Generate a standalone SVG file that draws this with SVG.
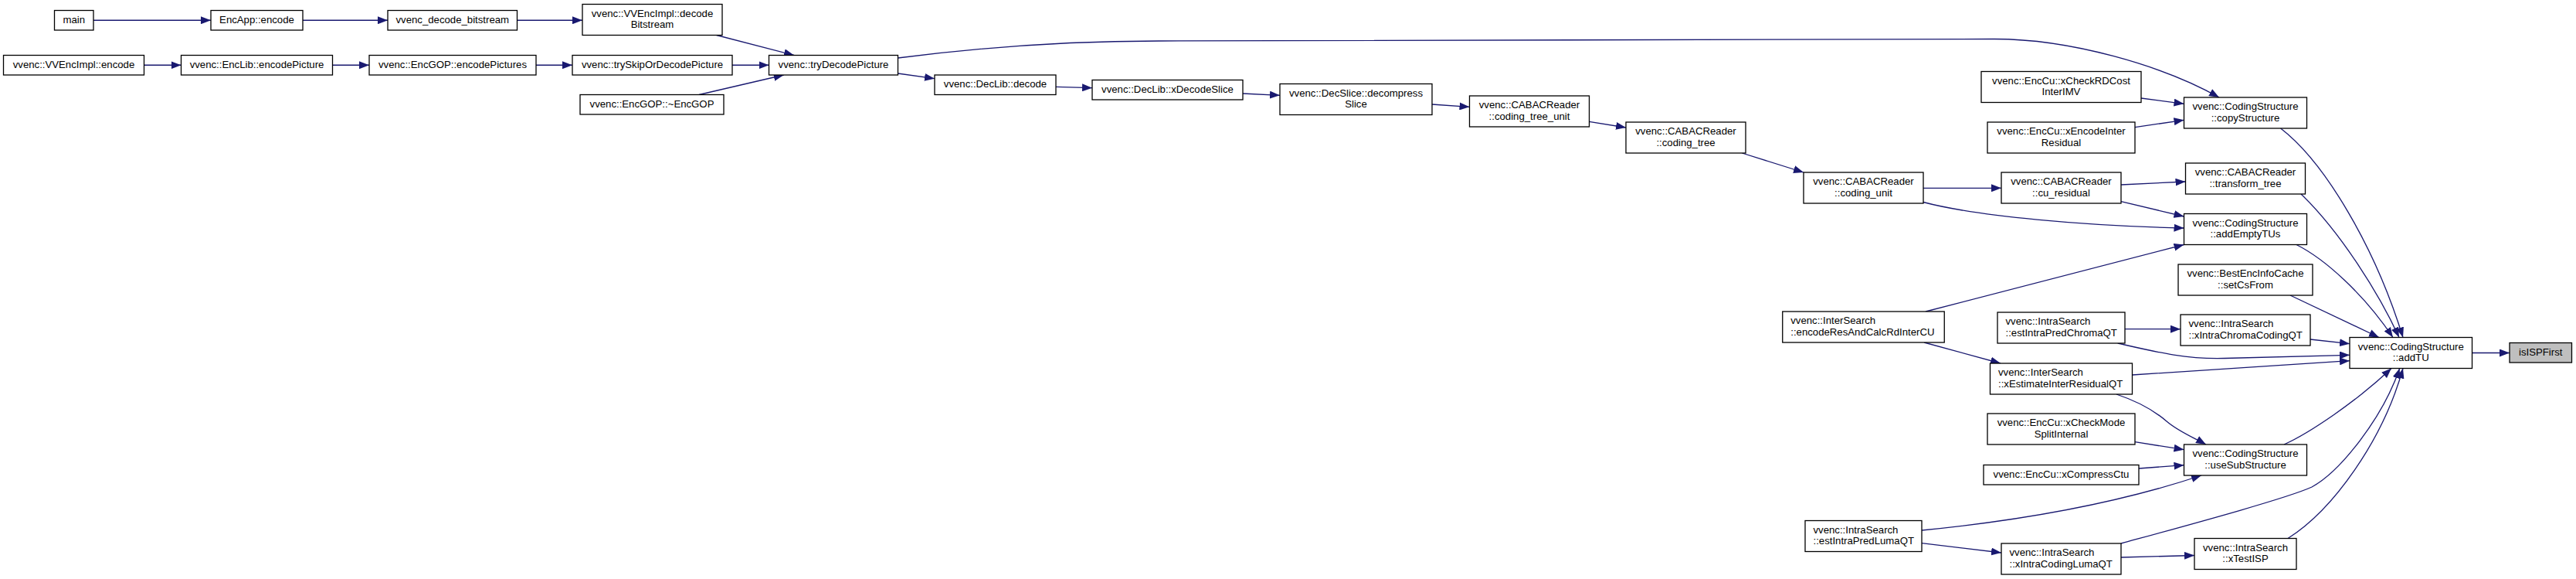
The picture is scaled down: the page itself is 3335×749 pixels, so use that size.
<svg xmlns="http://www.w3.org/2000/svg" width="3335" height="749" viewBox="0 0 3335 749">
<defs>
<style>
.n rect{fill:#fff;stroke:#000;stroke-width:1.3}
.n.g rect{fill:#bfbfbf}
text{font-family:"Liberation Sans",Arial,Helvetica,sans-serif;font-size:13.2px;fill:#000}
.c{text-anchor:middle}
#edges path{fill:none;stroke:#191970;stroke-width:1.3;marker-end:url(#a)}
</style>
<marker id="a" markerUnits="userSpaceOnUse" markerWidth="13" markerHeight="10" refX="13" refY="5" orient="auto" viewBox="0 0 13 10"><path d="M0,0L13,5L0,10z" fill="#191970"/></marker>
</defs>
<rect width="3335" height="749" fill="#fff"/>
<g id="edges">
<path d="M121,26.25 L273,26.25"/>
<path d="M392,26.25 L502,26.25"/>
<path d="M669.5,26.25 L754,26.25"/>
<path d="M186.5,84.25 L234.5,84.25"/>
<path d="M430.5,84.25 L478,84.25"/>
<path d="M694,84.25 L741,84.25"/>
<path d="M927.7,45.5 L1028,71.5"/>
<path d="M948,84.25 L995.5,84.25"/>
<path d="M905,122.5 L1014.7,97"/>
<path d="M1162.5,95 L1210,101.7"/>
<path d="M1162.5,75 C1280,60 1400,53 1500,53 L2580,50.5 C2680,50 2800,85 2873,126"/>
<path d="M1367,112.3 L1414,113.7"/>
<path d="M1609,121 L1657,123.3"/>
<path d="M1854,135 L1902.5,138.3"/>
<path d="M2057.5,157.3 L2105,165"/>
<path d="M2255.3,198 L2335,223"/>
<path d="M2490,243.3 L2591,243.3"/>
<path d="M2490,261.5 C2560,280 2700,292 2827.5,295"/>
<path d="M2493,403 L2827.5,316.5"/>
<path d="M2491,443 L2590,470"/>
<path d="M2772,127 L2827.5,134.3"/>
<path d="M2764,164.7 L2827.5,155.3"/>
<path d="M2746,239 L2829.5,235"/>
<path d="M2746,260.7 L2827.5,280"/>
<path d="M2952.6,166 C3010,210 3075,320 3111,436.5"/>
<path d="M2979,251 C3030,300 3080,380 3106,436.5"/>
<path d="M2973,316.5 C3010,335 3060,380 3098,436.5"/>
<path d="M2965,382 L3080,436.5"/>
<path d="M2751,425.7 L2823,425.7"/>
<path d="M2991,439 L3042,444.7"/>
<path d="M2741.7,444 C2790,455 2830,465 2880,463.5 C2950,461.5 3000,460 3042,459.3"/>
<path d="M2760.5,485 C2850,480 2950,472 3042,466.7"/>
<path d="M3200.5,456.5 L3249,456.5"/>
<path d="M2740,510 C2770,520 2790,532 2805,545 C2820,558 2840,566 2856,575"/>
<path d="M2764,571.7 L2827.5,581.7"/>
<path d="M2769,606 L2827.5,601.7"/>
<path d="M2488,686 C2600,675 2730,655 2850,615"/>
<path d="M2488,702.7 L2591,715"/>
<path d="M2957,575 C2990,560 3050,520 3096,476.5"/>
<path d="M2746,703 C2830,680 2960,645 2993,630 C3030,610 3085,540 3106.7,476.5"/>
<path d="M2962,696.5 C3020,660 3085,570 3111,476.5"/>
<path d="M2746,721 L2841,718.5"/>
</g>
<g id="n1" class="n"><rect x="70.5" y="13.5" width="50.5" height="25.5"/><text class="c" x="95.75" y="29.75">main</text></g>
<g id="n2" class="n"><rect x="273" y="13.5" width="119" height="25.5"/><text class="c" x="332.5" y="29.75">EncApp::encode</text></g>
<g id="n3" class="n"><rect x="502" y="13.5" width="167.5" height="25.5"/><text class="c" x="585.75" y="29.75">vvenc_decode_bitstream</text></g>
<g id="n4" class="n"><rect x="754" y="5.5" width="181" height="40"/><text class="c" x="844.5" y="21.8">vvenc::VVEncImpl::decode</text><text class="c" x="844.5" y="36.1">Bitstream</text></g>
<g id="n5" class="n"><rect x="4.5" y="71.5" width="182" height="25.5"/><text class="c" x="95.5" y="87.75">vvenc::VVEncImpl::encode</text></g>
<g id="n6" class="n"><rect x="234.5" y="71.5" width="196" height="25.5"/><text class="c" x="332.5" y="87.75">vvenc::EncLib::encodePicture</text></g>
<g id="n7" class="n"><rect x="478" y="71.5" width="216" height="25.5"/><text class="c" x="586" y="87.75">vvenc::EncGOP::encodePictures</text></g>
<g id="n8" class="n"><rect x="741" y="71.5" width="207" height="25.5"/><text class="c" x="844.5" y="87.75">vvenc::trySkipOrDecodePicture</text></g>
<g id="n9" class="n"><rect x="751" y="122.5" width="186" height="25.5"/><text class="c" x="844" y="138.75">vvenc::EncGOP::~EncGOP</text></g>
<g id="n10" class="n"><rect x="995.5" y="71.5" width="167" height="25.5"/><text class="c" x="1079" y="87.75">vvenc::tryDecodePicture</text></g>
<g id="n11" class="n"><rect x="1210" y="97" width="157" height="25.5"/><text class="c" x="1288.5" y="113.25">vvenc::DecLib::decode</text></g>
<g id="n12" class="n"><rect x="1414" y="103.5" width="195" height="25.5"/><text class="c" x="1511.5" y="119.75">vvenc::DecLib::xDecodeSlice</text></g>
<g id="n13" class="n"><rect x="1657" y="108.5" width="197" height="40"/><text class="c" x="1755.5" y="124.8">vvenc::DecSlice::decompress</text><text class="c" x="1755.5" y="139.1">Slice</text></g>
<g id="n14" class="n"><rect x="1902.5" y="124" width="155" height="40"/><text class="c" x="1980" y="140.3">vvenc::CABACReader</text><text class="c" x="1980" y="154.6">::coding_tree_unit</text></g>
<g id="n15" class="n"><rect x="2105" y="158" width="155" height="40"/><text class="c" x="2182.5" y="174.3">vvenc::CABACReader</text><text class="c" x="2182.5" y="188.6">::coding_tree</text></g>
<g id="n16" class="n"><rect x="2335" y="223" width="155" height="40"/><text class="c" x="2412.5" y="239.3">vvenc::CABACReader</text><text class="c" x="2412.5" y="253.6">::coding_unit</text></g>
<g id="n17" class="n"><rect x="2307.75" y="403" width="209.5" height="40"/><text x="2318.25" y="419.3">vvenc::InterSearch</text><text x="2318.25" y="433.6">::encodeResAndCalcRdInterCU</text></g>
<g id="n18" class="n"><rect x="2337" y="673.5" width="151" height="40"/><text x="2347.5" y="689.8">vvenc::IntraSearch</text><text x="2347.5" y="704.1">::estIntraPredLumaQT</text></g>
<g id="n19" class="n"><rect x="2565" y="92.5" width="207" height="40"/><text class="c" x="2668.5" y="108.8">vvenc::EncCu::xCheckRDCost</text><text class="c" x="2668.5" y="123.1">InterIMV</text></g>
<g id="n20" class="n"><rect x="2573" y="158" width="191" height="40"/><text class="c" x="2668.5" y="174.3">vvenc::EncCu::xEncodeInter</text><text class="c" x="2668.5" y="188.6">Residual</text></g>
<g id="n21" class="n"><rect x="2591" y="223" width="155" height="40"/><text class="c" x="2668.5" y="239.3">vvenc::CABACReader</text><text class="c" x="2668.5" y="253.6">::cu_residual</text></g>
<g id="n22" class="n"><rect x="2586" y="404" width="165" height="40"/><text x="2596.5" y="420.3">vvenc::IntraSearch</text><text x="2596.5" y="434.6">::estIntraPredChromaQT</text></g>
<g id="n23" class="n"><rect x="2576.5" y="470" width="184" height="40"/><text x="2587" y="486.3">vvenc::InterSearch</text><text x="2587" y="500.6">::xEstimateInterResidualQT</text></g>
<g id="n24" class="n"><rect x="2573" y="535" width="191" height="40"/><text class="c" x="2668.5" y="551.3">vvenc::EncCu::xCheckMode</text><text class="c" x="2668.5" y="565.6">SplitInternal</text></g>
<g id="n25" class="n"><rect x="2568" y="601.5" width="201" height="25.5"/><text class="c" x="2668.5" y="617.75">vvenc::EncCu::xCompressCtu</text></g>
<g id="n26" class="n"><rect x="2591" y="703" width="155" height="40"/><text x="2601.5" y="719.3">vvenc::IntraSearch</text><text x="2601.5" y="733.6">::xIntraCodingLumaQT</text></g>
<g id="n27" class="n"><rect x="2827.5" y="126" width="159" height="40"/><text class="c" x="2907" y="142.3">vvenc::CodingStructure</text><text class="c" x="2907" y="156.6">::copyStructure</text></g>
<g id="n28" class="n"><rect x="2829.5" y="211" width="155" height="40"/><text class="c" x="2907" y="227.3">vvenc::CABACReader</text><text class="c" x="2907" y="241.6">::transform_tree</text></g>
<g id="n29" class="n"><rect x="2827.5" y="276.5" width="159" height="40"/><text class="c" x="2907" y="292.8">vvenc::CodingStructure</text><text class="c" x="2907" y="307.1">::addEmptyTUs</text></g>
<g id="n30" class="n"><rect x="2820" y="342" width="174" height="40"/><text class="c" x="2907" y="358.3">vvenc::BestEncInfoCache</text><text class="c" x="2907" y="372.6">::setCsFrom</text></g>
<g id="n31" class="n"><rect x="2823" y="407" width="168" height="40"/><text x="2833.5" y="423.3">vvenc::IntraSearch</text><text x="2833.5" y="437.6">::xIntraChromaCodingQT</text></g>
<g id="n32" class="n"><rect x="2827.5" y="575" width="159" height="40"/><text class="c" x="2907" y="591.3">vvenc::CodingStructure</text><text class="c" x="2907" y="605.6">::useSubStructure</text></g>
<g id="n33" class="n"><rect x="2841" y="696.5" width="132" height="40"/><text class="c" x="2907" y="712.8">vvenc::IntraSearch</text><text class="c" x="2907" y="727.1">::xTestISP</text></g>
<g id="n34" class="n"><rect x="3042" y="436.5" width="158.5" height="40"/><text class="c" x="3121.25" y="452.8">vvenc::CodingStructure</text><text class="c" x="3121.25" y="467.1">::addTU</text></g>
<g id="n35" class="n g"><rect x="3249" y="443.5" width="80.5" height="25.5"/><text class="c" x="3289.25" y="459.75">isISPFirst</text></g>
</svg>
